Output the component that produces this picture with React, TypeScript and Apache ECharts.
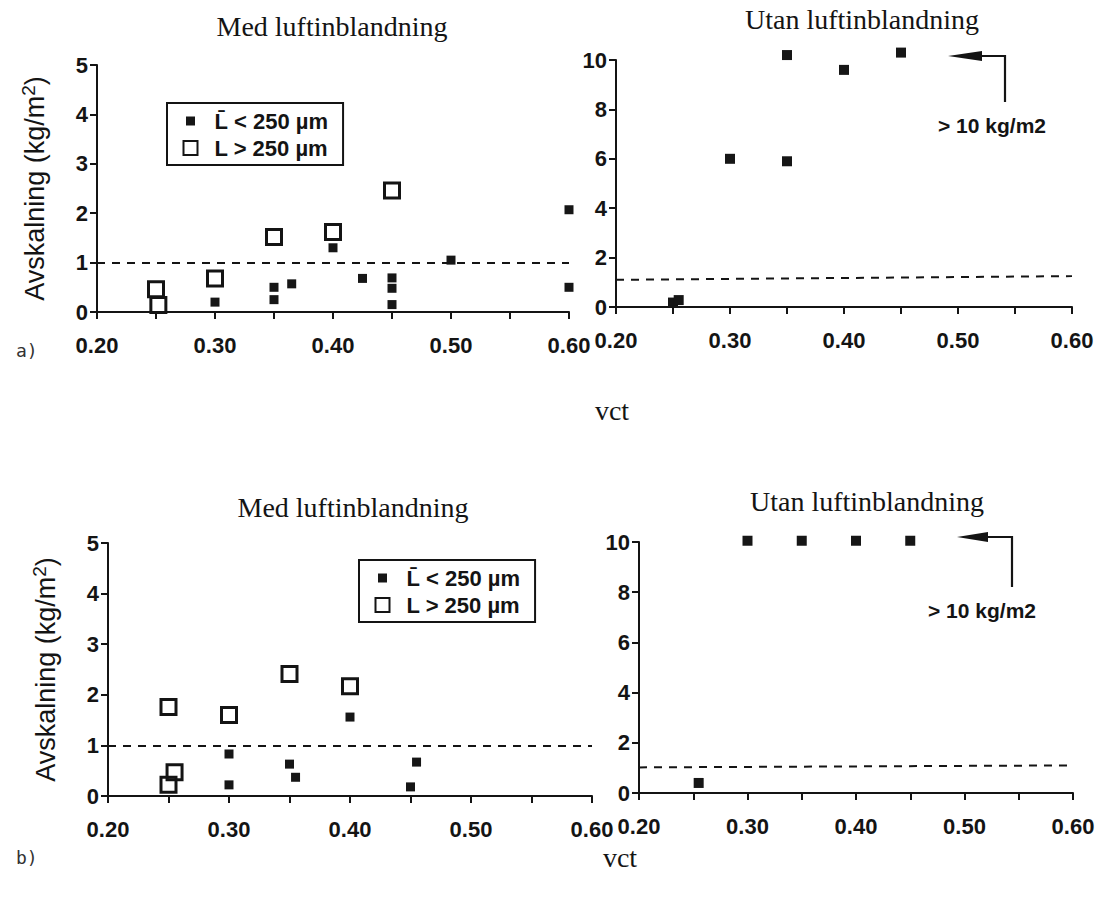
import React, { useEffect, useRef } from "react";
import * as echarts from "echarts";

// Series labels
const SMALL = "L\u0304 < 250 \u00b5m";
const LARGE = "L > 250 \u00b5m";

// a) Med luftinblandning: [vct, avskalning kg/m²]
const aMedSmall: [number, number][] = [
  [0.3, 0.2], [0.35, 0.5], [0.35, 0.25], [0.365, 0.57], [0.4, 1.3], [0.425, 0.68],
  [0.45, 0.69], [0.45, 0.48], [0.45, 0.15], [0.5, 1.05], [0.6, 2.07], [0.6, 0.5],
];
const aMedLarge: [number, number][] = [
  [0.25, 0.46], [0.252, 0.14], [0.3, 0.68], [0.35, 1.52], [0.4, 1.62], [0.45, 2.46],
];
// a) Utan luftinblandning
const aUtanSmall: [number, number][] = [
  [0.25, 0.18], [0.255, 0.28], [0.3, 6.0], [0.35, 10.2], [0.35, 5.9], [0.4, 9.6], [0.45, 10.3],
];
// b) Med luftinblandning
const bMedSmall: [number, number][] = [
  [0.3, 0.83], [0.3, 0.22], [0.35, 0.63], [0.355, 0.37], [0.4, 1.56], [0.45, 0.18], [0.455, 0.67],
];
const bMedLarge: [number, number][] = [
  [0.25, 1.76], [0.255, 0.47], [0.25, 0.22], [0.3, 1.6], [0.35, 2.41], [0.4, 2.17],
];
// b) Utan luftinblandning
const bUtanSmall: [number, number][] = [
  [0.255, 0.4], [0.3, 10.05], [0.35, 10.05], [0.4, 10.05], [0.45, 10.05],
];

// Dashed limit line per panel: value at vct 0.20 and at vct 0.60
const limitAMed = [1.0, 1.0];
const limitAUtan = [1.1, 1.25];
const limitBMed = [1.0, 1.0];
const limitBUtan = [1.02, 1.1];

const yMaxMed = 5;
const yMaxUtan = 10;

const INK = "#141414";
const SANS = "'Liberation Sans', Arial, Helvetica, sans-serif";
const SERIF = "'Liberation Serif', 'Times New Roman', serif";

const grids = [
  { left: 97, top: 65, width: 472, height: 247 },
  { left: 616, top: 60, width: 456, height: 247 },
  { left: 108, top: 543, width: 484, height: 253 },
  { left: 639, top: 542, width: 434, height: 251 },
];

function xAxisFor(gridIndex: number) {
  return {
    type: "value",
    gridIndex,
    min: 0.2,
    max: 0.6,
    interval: 0.05,
    axisLine: { show: true, onZero: false, lineStyle: { color: INK, width: 2 } },
    axisTick: { show: true, length: 7, lineStyle: { color: INK, width: 2 } },
    splitLine: { show: false },
    axisLabel: {
      color: INK,
      fontFamily: SANS,
      fontWeight: "bold",
      fontSize: 22,
      margin: 22,
      showMinLabel: true,
      showMaxLabel: true,
      formatter: (v: number) => (Math.round(v * 100) % 10 === 0 ? v.toFixed(2) : ""),
    },
  };
}

function yAxisFor(gridIndex: number, max: number, interval: number, withName: boolean) {
  return {
    type: "value",
    gridIndex,
    min: 0,
    max,
    interval,
    name: withName ? "{a|Avskalning (kg/m}{s|2}{a|)}" : "",
    nameLocation: "middle",
    nameGap: 46,
    nameTextStyle: {
      color: INK,
      fontFamily: SANS,
      fontSize: 27,
      rich: {
        a: { color: INK, fontFamily: SANS, fontSize: 27, lineHeight: 32 },
        s: { color: INK, fontFamily: SANS, fontSize: 19, lineHeight: 19, verticalAlign: "top" },
      },
    },
    axisLine: { show: true, onZero: false, lineStyle: { color: INK, width: 2 } },
    axisTick: { show: true, length: 7, lineStyle: { color: INK, width: 2 } },
    splitLine: { show: false },
    axisLabel: { color: INK, fontFamily: SANS, fontWeight: "bold", fontSize: 22, margin: 9 },
  };
}

function limitLine(v: number[]) {
  return {
    silent: true,
    symbol: ["none", "none"],
    label: { show: false },
    lineStyle: { color: INK, type: [8, 7], width: 2, opacity: 1 },
    data: [[{ coord: [0.2, v[0]] }, { coord: [0.6, v[1]] }]],
  };
}

function filled(data: [number, number][], idx: number, size: number, limit: number[]) {
  return {
    name: SMALL,
    type: "scatter",
    xAxisIndex: idx,
    yAxisIndex: idx,
    clip: false,
    symbol: "rect",
    symbolSize: size,
    itemStyle: { color: "#161616", opacity: 1 },
    data,
    markLine: limitLine(limit),
    z: 3,
  };
}

function open(data: [number, number][], idx: number) {
  return {
    name: LARGE,
    type: "scatter",
    xAxisIndex: idx,
    yAxisIndex: idx,
    clip: false,
    symbol: "rect",
    symbolSize: 15,
    itemStyle: { color: "rgba(255,255,255,0)", borderColor: INK, borderWidth: 3, opacity: 1 },
    data,
    z: 4,
  };
}

function legendAt(left: number, top: number) {
  return {
    left,
    top,
    orient: "vertical",
    selectedMode: false,
    borderColor: INK,
    borderWidth: 2,
    padding: [7, 15, 6, 14],
    itemGap: 5,
    itemWidth: 14,
    itemHeight: 14,
    textStyle: { color: INK, fontFamily: SANS, fontWeight: "bold", fontSize: 22, padding: [0, 0, 0, 12] },
    data: [
      { name: SMALL, icon: "rect", itemStyle: { color: "#161616", opacity: 1, borderColor: "#fff", borderWidth: 5 } },
      { name: LARGE, icon: "rect", itemStyle: { opacity: 1 } },
    ],
  };
}

function arrow(tipX: number, tipY: number, baseX: number, cornerX: number, endY: number, textX: number, textY: number) {
  return [
    {
      type: "polygon",
      shape: { points: [[tipX, tipY], [baseX, tipY - 5], [baseX, tipY + 5]] },
      style: { fill: INK },
    },
    {
      type: "polyline",
      shape: { points: [[baseX, tipY], [cornerX, tipY], [cornerX, endY]] },
      style: { stroke: INK, lineWidth: 2.2, fill: "none" },
    },
    {
      type: "text",
      x: textX,
      y: textY,
      style: {
        text: "> 10 kg/m2",
        fill: INK,
        font: `bold 21px ${SANS}`,
        textVerticalAlign: "middle",
      },
    },
  ];
}

function titleAt(text: string, cx: number, top: number) {
  return {
    text,
    left: cx,
    top,
    textAlign: "center",
    textStyle: { color: INK, fontFamily: SERIF, fontWeight: "normal", fontSize: 28 },
  };
}

export default function App() {
  const ref = useRef<HTMLDivElement>(null);

  useEffect(() => {
    document.body.style.margin = "0";
    if (!ref.current) return;
    const chart = echarts.init(ref.current, null, { renderer: "svg" });
    chart.setOption({
      animation: false,
      backgroundColor: "#fff",
      title: [
        titleAt("Med luftinblandning", 327, 7),
        titleAt("Utan luftinblandning", 857, 0),
        titleAt("Med luftinblandning", 348, 488),
        titleAt("Utan luftinblandning", 862, 482),
      ],
      grid: grids,
      xAxis: [xAxisFor(0), xAxisFor(1), xAxisFor(2), xAxisFor(3)],
      yAxis: [
        yAxisFor(0, yMaxMed, 1, true),
        yAxisFor(1, yMaxUtan, 2, false),
        yAxisFor(2, yMaxMed, 1, true),
        yAxisFor(3, yMaxUtan, 2, false),
      ],
      legend: [legendAt(167, 103), legendAt(359, 560)],
      series: [
        filled(aMedSmall, 0, 9, limitAMed),
        open(aMedLarge, 0),
        filled(aUtanSmall, 1, 10, limitAUtan),
        filled(bMedSmall, 2, 9, limitBMed),
        open(bMedLarge, 2),
        filled(bUtanSmall, 3, 10, limitBUtan),
      ],
      graphic: [
        ...arrow(948, 56, 982, 1005, 102, 938, 125),
        ...arrow(957, 537, 988, 1012, 587, 928, 610),
        {
          type: "text",
          x: 612,
          y: 410,
          style: { text: "vct", fill: INK, font: `28px ${SERIF}`, textAlign: "center", textVerticalAlign: "middle" },
        },
        {
          type: "text",
          x: 620,
          y: 857,
          style: { text: "vct", fill: INK, font: `28px ${SERIF}`, textAlign: "center", textVerticalAlign: "middle" },
        },
        {
          type: "text",
          x: 16,
          y: 350,
          style: { text: "a)", fill: "#333", font: `18px 'DejaVu Sans Mono', monospace`, textVerticalAlign: "middle" },
        },
        {
          type: "text",
          x: 16,
          y: 857,
          style: { text: "b)", fill: "#333", font: `18px 'DejaVu Sans Mono', monospace`, textVerticalAlign: "middle" },
        },
      ],
    });
    return () => chart.dispose();
  }, []);

  return <div ref={ref} style={{ width: 1115, height: 899 }} />;
}
